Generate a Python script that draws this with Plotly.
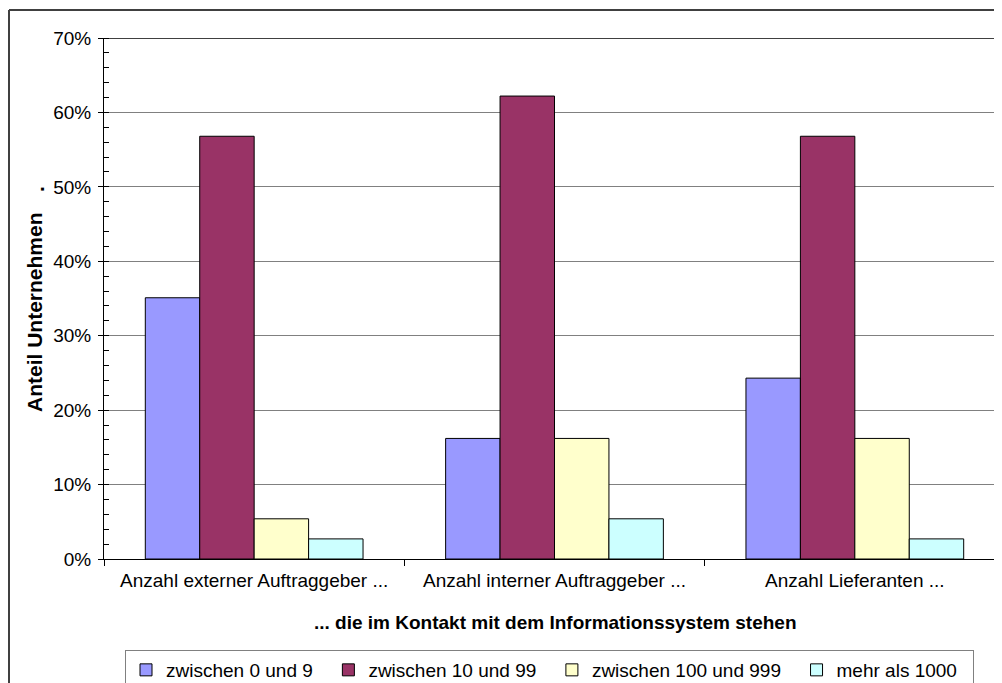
import plotly.graph_objects as go

categories = ["Anzahl externer Auftraggeber ...", "Anzahl interner Auftraggeber ...", "Anzahl Lieferanten ..."]
series_names = ["zwischen 0 und 9", "zwischen 10 und 99", "zwischen 100 und 999", "mehr als 1000"]
vals_0_9 = [0.351, 0.162, 0.243]
vals_10_99 = [0.568, 0.622, 0.568]
vals_100_999 = [0.054, 0.162, 0.162]
vals_1000 = [0.027, 0.054, 0.027]
colors = ["#9999FF", "#993366", "#FFFFCC", "#CCFFFF"]

W, H = 1002, 683
L, R, T, B = 96, 5, 30, 132
pw, ph = W - L - R, H - T - B

fig = go.Figure()
for name, vals, col in zip(series_names, [vals_0_9, vals_10_99, vals_100_999, vals_1000], colors):
    fig.add_trace(go.Bar(
        x=categories, y=vals, name=name + "\u00a0\u00a0",
        marker=dict(color=col, line=dict(color="black", width=1)),
    ))

font_family = "Liberation Sans, Arial, sans-serif"

fig.update_layout(
    width=W, height=H,
    barmode="group", bargap=0.275, bargroupgap=0,
    plot_bgcolor="white", paper_bgcolor="white",
    margin=dict(l=L, r=R, t=T, b=B),
    font=dict(family=font_family, size=19, color="black"),
    showlegend=True,
    legend=dict(
        orientation="h", xref="container", yref="container",
        x=117/W, xanchor="left", y=1-642/H, yanchor="top",
        bordercolor="#808080", borderwidth=1, bgcolor="white",
        font=dict(size=19), itemwidth=30, tracegroupgap=0,
    ),
    xaxis=dict(
        showline=True, linecolor="black", linewidth=1,
        ticks="outside", tickson="boundaries", ticklen=6, tickcolor="black",
        tickfont=dict(size=19), ticklabelstandoff=4,
    ),
    yaxis=dict(
        range=[0, 0.7], dtick=0.1, tickformat=".0%",
        showline=True, linecolor="black", linewidth=1,
        showgrid=True, gridcolor="#808080", gridwidth=1,
        ticks="outside", ticklen=5, tickcolor="black",
        tickfont=dict(size=19), ticklabelstandoff=3,
        minor=dict(dtick=0.02, ticks="inside", ticklen=5, tickcolor="black", showgrid=False),
        zeroline=False,
    ),
)

# top edge of plot area (black) and outer chart border
fig.add_shape(type="line", xref="paper", yref="y", x0=0, x1=1, y0=0.7, y1=0.7,
              line=dict(color="black", width=1.5))
bx = -(L - 1) / pw
by = 1 + (T - 2) / ph
fig.add_shape(type="line", xref="paper", yref="paper", x0=bx, x1=bx, y0=-B / ph, y1=by,
              line=dict(color="#404040", width=2))
fig.add_shape(type="line", xref="paper", yref="paper", x0=bx, x1=1 + R / pw, y0=by, y1=by,
              line=dict(color="#404040", width=2))

fig.add_annotation(
    text="<b>Anteil Unternehmen</b>",
    xref="paper", yref="paper", x=-(L - 27) / pw, y=(T + ph - 304) / ph,
    xanchor="center", yanchor="middle",
    textangle=-90, showarrow=False, font=dict(size=21),
)
fig.add_annotation(
    text="<b>.</b>",
    xref="paper", yref="paper", x=-(L - 28) / pw, y=(T + ph - 181) / ph,
    xanchor="center", yanchor="middle",
    textangle=-90, showarrow=False, font=dict(size=21),
)
fig.add_annotation(
    text="<b>... die im Kontakt mit dem Informationssystem stehen</b>",
    xref="paper", yref="paper", x=(547 - L) / pw, y=-(614 - T - ph) / ph,
    xanchor="center", yanchor="middle",
    showarrow=False, font=dict(size=19),
)

fig.write_html("out.html")
